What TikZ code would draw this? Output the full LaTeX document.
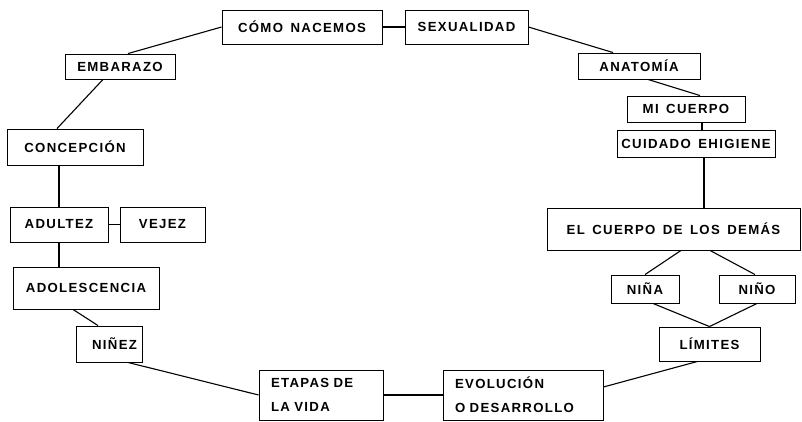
\documentclass[tikz,border=0pt]{standalone}
\usepackage{fontspec}
\usepackage{tikz}
\usetikzlibrary{positioning}
\newfontfamily\cajafont[LetterSpace=10, WordSpace=1.5]{Liberation Sans Bold}

\begin{document}
\begin{tikzpicture}[x=1pt, y=-1pt,
		caja/.style={draw, line width=0.9pt, inner sep=0pt, font=\cajafont\fontsize{13.2}{24}\selectfont},
		doble/.style={caja, align=left},
		enlace/.style={line width=1.1pt}]
	\useasboundingbox (0,0) rectangle (802,422);

	% arriba
	\node [caja, minimum width=160pt, minimum height=34pt] (como) at (302,27) {CÓMO NACEMOS};
	\node [caja, minimum width=123pt, minimum height=34pt] (sexualidad) at (466.5,27) {SEXUALIDAD};

	% lado izquierdo
	\node [caja, minimum width=110pt, minimum height=25pt] (embarazo) at (120,66.5) {EMBARAZO};
	\node [caja, minimum width=136pt, minimum height=36pt] (concepcion) at (75,147) {CONCEPCIÓN};
	\node [caja, minimum width=98pt, minimum height=35pt] (adultez) at (59,224.5) {ADULTEZ};
	\node [caja, minimum width=85pt, minimum height=35pt] (vejez) at (162.5,224.5) {VEJEZ};
	\node [caja, minimum width=146pt, minimum height=42pt] (adolescencia) at (86,288) {ADOLESCENCIA};
	\node [caja, minimum width=66pt, minimum height=36pt, text width=56pt, align=right] (ninez) at (109,344) {NIÑEZ};

	% abajo
	\node [doble, minimum width=124pt, minimum height=50pt, text width=100pt] (etapas) at (321,395) {ETAPAS DE\\LA VIDA};
	\node [doble, minimum width=160pt, minimum height=50pt, text width=136pt] (evolucion) at (523,395) {EVOLUCIÓN\\O DESARROLLO};

	% lado derecho
	\node [caja, minimum width=101pt, minimum height=34pt] (limites) at (709.5,344) {LÍMITES};
	\node [caja, minimum width=68pt, minimum height=28pt] (nina) at (645,289) {NIÑA};
	\node [caja, minimum width=76pt, minimum height=28pt] (nino) at (757,289) {NIÑO};
	\node [caja, minimum width=253pt, minimum height=42pt] (demas) at (673.5,229) {EL CUERPO DE LOS DEMÁS};
	\node [caja, minimum width=158pt, minimum height=27pt] (cuidado) at (696,143.5) {CUIDADO EHIGIENE};
	\node [caja, minimum width=118pt, minimum height=26pt] (micuerpo) at (686,109) {MI CUERPO};
	\node [caja, minimum width=122pt, minimum height=26pt] (anatomia) at (639,66) {ANATOMÍA};

	% enlaces
	\draw [enlace] (como.west) -- ([xshift=8pt]embarazo.north);
	\draw [enlace] (como.east) -- (sexualidad.west);
	\draw [enlace] (sexualidad.east) -- ([xshift=-26pt]anatomia.north);
	\draw [enlace] ([xshift=-17pt]embarazo.south) -- ([xshift=-18pt]concepcion.north);
	\draw [enlace] (adultez.north |- concepcion.south) -- (adultez.north);
	\draw [enlace] (adultez.east) -- (vejez.west);
	\draw [enlace] (adultez.south) -- (adultez.south |- adolescencia.north);
	\draw [enlace] ([xshift=-13pt]adolescencia.south) -- ([xshift=-11pt]ninez.north);
	\draw [enlace] ([xshift=19pt]ninez.south) -- (etapas.west);
	\draw [enlace] (etapas.east) -- (evolucion.west);
	\draw [enlace] ([yshift=8pt]evolucion.east) -- ([xshift=-12pt]limites.south);
	\draw [enlace] ([xshift=8pt]nina.south) -- (limites.north);
	\draw [enlace] (nino.south) -- (limites.north);
	\draw [enlace] ([xshift=7.5pt]demas.south) -- (nina.north);
	\draw [enlace] ([xshift=36.5pt]demas.south) -- ([xshift=-2pt]nino.north);
	\draw [enlace] (cuidado.south -| 704,0) -- (demas.north -| 704,0);
	\draw [enlace] (micuerpo.south -| 702,0) -- (cuidado.north -| 702,0);
	\draw [enlace] ([xshift=9pt]anatomia.south) -- ([xshift=14pt]micuerpo.north);
\end{tikzpicture}
\end{document}
